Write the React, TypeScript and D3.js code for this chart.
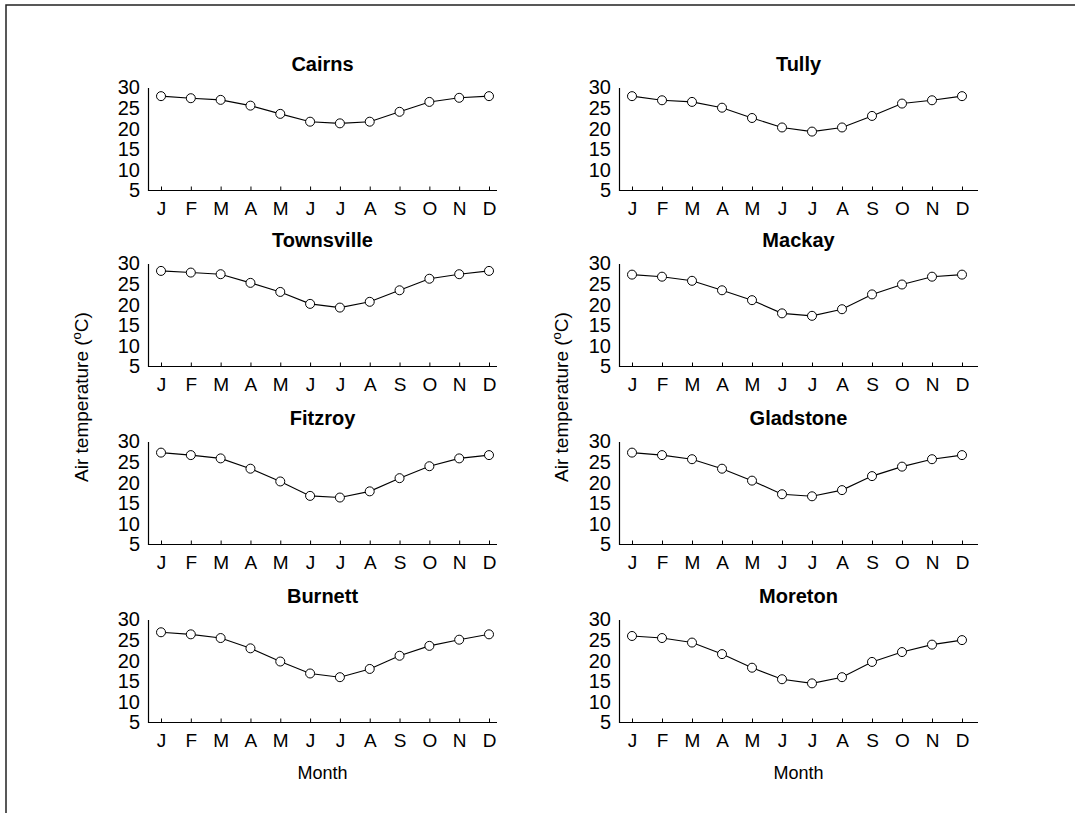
import React, { useRef, useEffect } from 'react';
import * as d3 from 'd3';

const months = ['J', 'F', 'M', 'A', 'M', 'J', 'J', 'A', 'S', 'O', 'N', 'D'];
const yTicks = [5, 10, 15, 20, 25, 30];

const stations = ['Cairns', 'Tully', 'Townsville', 'Mackay', 'Fitzroy', 'Gladstone', 'Burnett', 'Moreton'];

const cairns = [27.9, 27.4, 27.0, 25.6, 23.6, 21.7, 21.3, 21.7, 24.1, 26.5, 27.5, 27.9];
const tully = [27.9, 26.9, 26.5, 25.1, 22.6, 20.3, 19.3, 20.3, 23.1, 26.1, 26.9, 27.9];
const townsville = [28.2, 27.8, 27.4, 25.3, 23.1, 20.2, 19.3, 20.7, 23.5, 26.3, 27.4, 28.2];
const mackay = [27.3, 26.8, 25.8, 23.5, 21.1, 17.9, 17.3, 18.9, 22.5, 24.9, 26.8, 27.3];
const fitzroy = [27.3, 26.7, 25.9, 23.4, 20.3, 16.8, 16.4, 17.9, 21.1, 24.0, 25.9, 26.7];
const gladstone = [27.3, 26.7, 25.7, 23.4, 20.5, 17.2, 16.7, 18.2, 21.6, 23.9, 25.7, 26.7];
const burnett = [26.9, 26.4, 25.5, 23.0, 19.8, 16.9, 16.0, 18.0, 21.2, 23.6, 25.1, 26.4];
const moreton = [26.0, 25.5, 24.4, 21.6, 18.3, 15.5, 14.5, 16.0, 19.7, 22.1, 23.9, 25.0];

const seriesValues = [cairns, tully, townsville, mackay, fitzroy, gladstone, burnett, moreton];

const FONT = 'Liberation Sans, Arial, Helvetica, sans-serif';

const App = () => {
  const svgRef = useRef<SVGSVGElement>(null);

  useEffect(() => {
    const svg = d3.select(svgRef.current);
    svg.selectAll('*').remove();

    const width = 1075;
    const height = 813;

    // frame (top and left edges visible)
    svg.append('path')
      .attr('d', `M6,${height} L6,5 L${width},5`)
      .attr('fill', 'none')
      .attr('stroke', '#222')
      .attr('stroke-width', 1.5);

    const columns = [
      { axisX: 148, first: 161, last: 489, end: 497 },
      { axisX: 619, first: 632, last: 962, end: 978 },
    ];
    const rowTops = [87.5, 263.5, 441.5, 619.5];
    const plotH = 103;

    const idx = d3.range(months.length);

    stations.forEach((name, i) => {
      const col = columns[i % 2];
      const top = rowTops[Math.floor(i / 2)];
      const values = seriesValues[i];

      const x = d3.scalePoint<number>()
        .domain(idx)
        .range([col.first, col.last]);

      const y = d3.scaleLinear()
        .domain([5, 30])
        .range([top + plotH, top]);

      const g = svg.append('g');

      // x axis
      const xAxis = g.append('g')
        .attr('transform', `translate(0,${y(5)})`)
        .call(d3.axisBottom(x).tickSize(-4).tickPadding(11).tickFormat((d) => months[d as number]));
      xAxis.select('.domain').remove();
      xAxis.selectAll('text')
        .attr('font-size', 19)
        .attr('font-family', FONT)
        .attr('fill', '#000');
      xAxis.selectAll('line').attr('stroke', '#000');
      g.append('line')
        .attr('x1', col.axisX)
        .attr('x2', col.end)
        .attr('y1', y(5))
        .attr('y2', y(5))
        .attr('stroke', '#000')
        .attr('stroke-width', 1.2);

      // y axis
      const yAxis = g.append('g')
        .attr('transform', `translate(${col.axisX},0)`)
        .call(d3.axisLeft(y).tickValues(yTicks).tickSize(0).tickPadding(8).tickFormat(d3.format('d')));
      yAxis.select('.domain').attr('stroke', '#000').attr('stroke-width', 1.2);
      yAxis.selectAll('text')
        .attr('font-size', 20)
        .attr('font-family', FONT)
        .attr('fill', '#000');

      // title
      g.append('text')
        .attr('x', (col.axisX + col.end) / 2)
        .attr('y', top - 17)
        .attr('text-anchor', 'middle')
        .attr('font-size', 20)
        .attr('font-weight', 'bold')
        .attr('font-family', FONT)
        .text(name);

      // line + markers
      const line = d3.line<number>()
        .x((_, j) => x(j) as number)
        .y((d) => y(d));

      g.append('path')
        .datum(values)
        .attr('d', line)
        .attr('fill', 'none')
        .attr('stroke', '#000')
        .attr('stroke-width', 1.1);

      g.selectAll('.pt')
        .data(values)
        .enter()
        .append('circle')
        .attr('class', 'pt')
        .attr('cx', (_, j) => x(j) as number)
        .attr('cy', (d) => y(d))
        .attr('r', 4.5)
        .attr('fill', '#fff')
        .attr('stroke', '#000')
        .attr('stroke-width', 1);
    });

    // axis titles
    columns.forEach((col) => {
      svg.append('text')
        .attr('x', (col.axisX + col.end) / 2)
        .attr('y', 779)
        .attr('text-anchor', 'middle')
        .attr('font-size', 18)
        .attr('font-family', FONT)
        .text('Month');
    });

    [82, 562].forEach((cx) => {
      const t = svg.append('text')
        .attr('transform', `translate(${cx + 6},397) rotate(-90)`)
        .attr('text-anchor', 'middle')
        .attr('font-size', 19)
        .attr('font-family', FONT);
      t.append('tspan').text('Air temperature (');
      t.append('tspan').attr('font-size', 13).attr('dy', -7).text('o');
      t.append('tspan').attr('dy', 7).text('C)');
    });
  }, []);

  return (
    <svg
      ref={svgRef}
      width={1075}
      height={813}
      style={{ position: 'absolute', left: 0, top: 0, background: '#fff' }}
    ></svg>
  );
};

export default App;
